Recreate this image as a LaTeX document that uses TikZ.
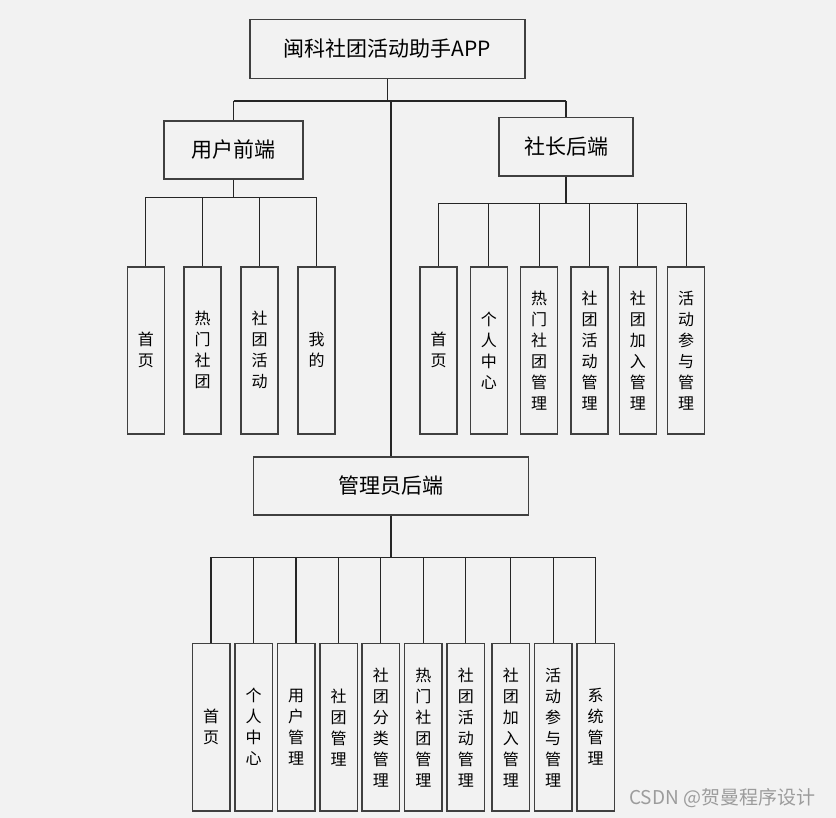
\documentclass[tikz,border=0pt]{standalone}
\usepackage{fontspec}
\newfontfamily\cjk{Noto Sans CJK SC}
\definecolor{bg}{HTML}{F2F2F2}
\definecolor{bord}{HTML}{404040}
\definecolor{wm}{HTML}{9C9C9C}
\begin{document}
\begin{tikzpicture}[x=1pt,y=-1pt,
  box/.style={draw=bord,line width=1.5pt,fill=bg,rectangle,inner sep=0pt,align=center,text=black},
  head/.style={box,font=\cjk\fontsize{21pt}{25pt}\selectfont},
  leaf/.style={box,minimum width=37,minimum height=167,font=\cjk\fontsize{16pt}{21pt}\selectfont},
  aleaf/.style={box,minimum width=37.5,minimum height=167.5,font=\cjk\fontsize{16pt}{21pt}\selectfont},
  conn/.style={draw=black!85,line width=1.3pt}]
\fill[bg] (0,0) rectangle (836,818);
\useasboundingbox (0,0) rectangle (836,818);

% level 0 / 1
\node[head,minimum width=275,minimum height=59] (top) at (387.5,48.8) {闽科社团活动助手APP};
\node[head,minimum width=139,minimum height=58] (user) at (233.7,149.9) {用户前端};
\node[head,minimum width=134,minimum height=58.5] (boss) at (566,147) {社长后端};
\node[head,minimum width=275,minimum height=58] (admin) at (391,485.8) {管理员后端};

% user leaves
\node[leaf] (u1) at (145.8,350.3) {首\\页};
\node[leaf] (u2) at (202.7,350.3) {热\\门\\社\\团};
\node[leaf] (u3) at (259.7,350.3) {社\\团\\活\\动};
\node[leaf] (u4) at (316.7,350.3) {我\\的};

% boss leaves
\node[leaf] (b1) at (438.6,350.3) {首\\页};
\node[leaf] (b2) at (488.8,350.3) {个\\人\\中\\心};
\node[leaf] (b3) at (539.2,350.3) {热\\门\\社\\团\\管\\理};
\node[leaf] (b4) at (589.6,350.3) {社\\团\\活\\动\\管\\理};
\node[leaf] (b5) at (637.8,350.3) {社\\团\\加\\入\\管\\理};
\node[leaf] (b6) at (686.2,350.3) {活\\动\\参\\与\\管\\理};

% admin leaves
\node[aleaf] (a1) at (211,727.2) {首\\页};
\node[aleaf] (a2) at (253.5,727.2) {个\\人\\中\\心};
\node[aleaf] (a3) at (296,727.2) {用\\户\\管\\理};
\node[aleaf] (a4) at (338.5,727.2) {社\\团\\管\\理};
\node[aleaf] (a5) at (380.8,727.2) {社\\团\\分\\类\\管\\理};
\node[aleaf] (a6) at (423.3,727.2) {热\\门\\社\\团\\管\\理};
\node[aleaf] (a7) at (465.8,727.2) {社\\团\\活\\动\\管\\理};
\node[aleaf] (a8) at (510.8,727.2) {社\\团\\加\\入\\管\\理};
\node[aleaf] (a9) at (553.2,727.2) {活\\动\\参\\与\\管\\理};
\node[aleaf] (a10) at (595.6,727.2) {系\\统\\管\\理};

% junction coordinates
\coordinate (j0) at (387.5,101);
\coordinate (ju) at (233.7,197.5);
\coordinate (jb) at (566,203.3);
\coordinate (ja) at (391,557.3);

% top connectors
\draw[conn] (top.south) -- (j0);
\draw[conn] (user.north |- j0) -- (boss.north |- j0);
\draw[conn] (user.north |- j0) -- (user.north);
\draw[conn] (boss.north |- j0) -- (boss.north);
\draw[conn] (admin.north |- j0) -- (admin.north);

% user connectors
\draw[conn] (user.south) -- (ju);
\draw[conn] (u1.north |- ju) -- (u4.north |- ju);
\foreach \n in {u1,u2,u3,u4} \draw[conn] (\n.north |- ju) -- (\n.north);

% boss connectors
\draw[conn] (boss.south) -- (jb);
\draw[conn] (b1.north |- jb) -- (b6.north |- jb);
\foreach \n in {b1,b2,b3,b4,b5,b6} \draw[conn] (\n.north |- jb) -- (\n.north);

% admin connectors
\draw[conn] (admin.south) -- (ja);
\draw[conn] (a1.north |- ja) -- (a10.north |- ja);
\foreach \n in {a1,a2,a3,a4,a5,a6,a7,a8,a9,a10} \draw[conn] (\n.north |- ja) -- (\n.north);

% watermark
\node[font=\cjk\fontsize{19pt}{22pt}\selectfont,text=wm,anchor=west,inner sep=0pt] (wmk) at (629,798) {CSDN @贺曼程序设计};
\end{tikzpicture}
\end{document}
